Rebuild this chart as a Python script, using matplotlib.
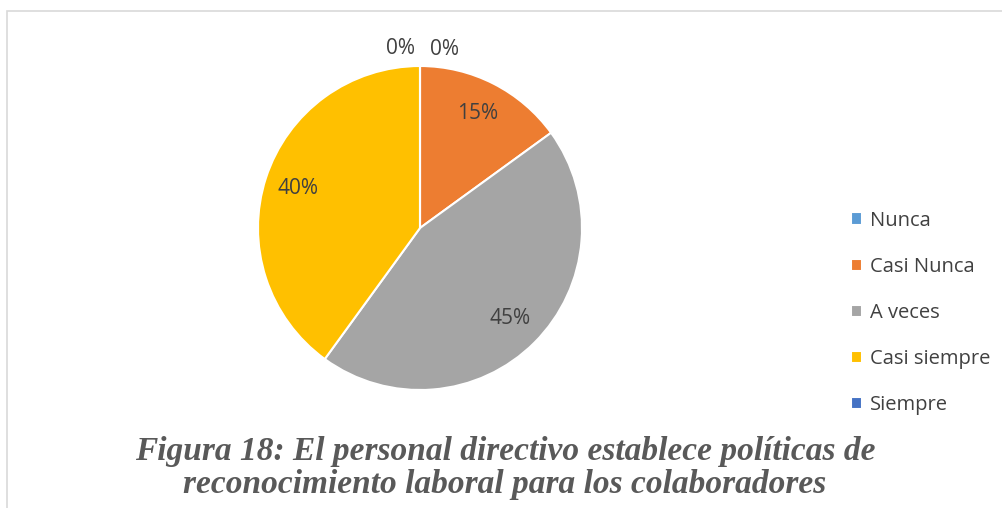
import matplotlib
matplotlib.use("Agg")
import matplotlib.pyplot as plt
from matplotlib.patches import Rectangle

categories = ["Nunca", "Casi Nunca", "A veces", "Casi siempre", "Siempre"]
values = [0, 15, 45, 40, 0]
colors = ["#5B9BD5", "#ED7D31", "#A5A5A5", "#FFC000", "#4472C4"]
caption = ("Figura 18: El personal directivo establece políticas de\n"
           "reconocimiento laboral para los colaboradores")

W, H = 1003, 508
fig = plt.figure(figsize=(W / 100, H / 100), dpi=100)
fig.patch.set_facecolor("white")

# chart frame
fig.add_artist(Rectangle((7 / W, -0.1), 1.2, 1 - 11 / H + 0.1, transform=fig.transFigure,
                         fill=False, edgecolor="#D9D9D9", linewidth=1.2))

cx, cy, r = 420, 228, 162
lim = 1.03
side = 2 * r * lim
ax = fig.add_axes([(cx - side / 2) / W, 1 - (cy + side / 2) / H, side / W, side / H])

wedges, texts, autotexts = ax.pie(
    values, colors=colors, startangle=90, counterclock=False,
    autopct=lambda p: f"{p:.0f}%", pctdistance=0.79,
    wedgeprops=dict(edgecolor="white", linewidth=1.5),
    textprops=dict(color="#404040", fontsize=15, family="Open Sans"))
ax.set_xlim(-lim, lim)
ax.set_ylim(-lim, lim)
ax.set_aspect("equal")
ax.axis("off")

# zero-value labels sit outside the pie at the top
zero_offsets = {0: (0.15, 1.10), 4: (-0.12, 1.11)}
for i, t in enumerate(autotexts):
    if values[i] == 0:
        t.set_position(zero_offsets[i])

leg = fig.legend(wedges, categories, loc="center left",
                 bbox_to_anchor=(833 / W, 1 - 313 / H), frameon=False,
                 prop=dict(family="Open Sans", size=14.5),
                 handlelength=0.55, handleheight=0.55, handletextpad=0.4,
                 labelspacing=1.3)
for t in leg.get_texts():
    t.set_color("#404040")

fig.text(505 / W, 1 - 468 / H, caption, ha="center", va="center",
         family="Liberation Serif", style="italic", weight="bold",
         fontsize=24, color="#595959", linespacing=1.12)

fig.savefig("out.png", dpi=100, facecolor="white")
